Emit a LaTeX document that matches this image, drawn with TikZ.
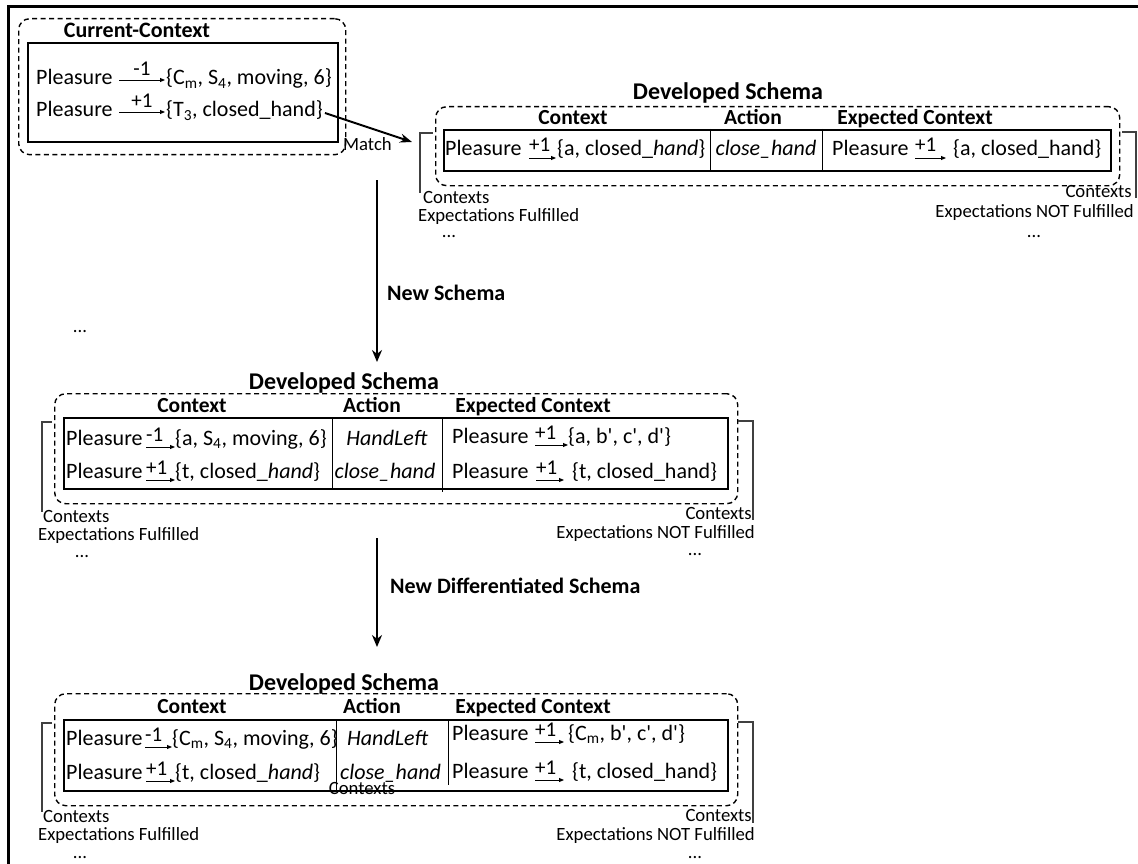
\documentclass[tikz,border=0pt]{standalone}
\usepackage{fontspec}
\setmainfont{Carlito}
\usetikzlibrary{arrows.meta,calc}

\newcommand\sq{\textquotesingle}

\tikzset{
  txt/.style={inner sep=0pt, font=\fontsize{22}{26}\selectfont},
  lbltxt/.style={inner sep=0pt, font=\fontsize{21}{24}\selectfont},
  small/.style={inner sep=0pt, font=\fontsize{18.7}{21}\selectfont},
  hdr/.style={inner sep=0pt, font=\fontsize{21.5}{24}\selectfont\bfseries},
  ttl/.style={inner sep=0pt, font=\fontsize{24}{28}\selectfont\bfseries},
  flowlbl/.style={inner sep=0pt, font=\fontsize{22}{26}\selectfont\bfseries},
  grp/.style={draw, line width=1.4pt, dash pattern=on 5pt off 3.5pt,
    rounded corners=11pt, inner sep=0pt, anchor=north west},
  tbl/.style={draw, line width=2pt, inner sep=0pt, anchor=north west},
  divider/.style={line width=1pt},
  brk/.style={line width=1.2pt, draw=black!75},
  rowarr/.style={line width=0.9pt, -{Triangle[length=5pt,width=4pt]}},
  flow/.style={line width=2.4pt, -{Stealth[length=12pt,width=10pt]}},
}

% one row inside a schema table:
% #1 name, #2 x, #3 baseline, #4 label x, #5 label, #6 arrow end x, #7 set x, #8 set
\newcommand\trow[8]{%
  \node[txt,anchor=base west] (#1p) at (#2,#3) {Pleasure};
  \node[lbltxt,anchor=base west] (#1l) at (#4,#3-4) {#5};
  \coordinate (#1e) at (#6,#3+2);
  \draw[rowarr] (#1l.base west |- #1e) -- (#1e);
  \node[txt,anchor=base west] (#1s) at (#7,#3) {#8};
}

% one row of the current context: #1 name, #2 baseline, #3 label, #4 set
\newcommand\crow[4]{%
  \node[txt,anchor=base west] (#1p) at (36,#2) {Pleasure};
  \coordinate (#1a) at (119,#2-5);
  \coordinate (#1e) at (165,#2-5);
  \draw[rowarr] (#1a) -- (#1e);
  \node[lbltxt,anchor=base] (#1l) at (142,#2-9) {#3};
  \node[txt,anchor=base west] (#1s) at (166,#2) {#4};
}

\begin{document}
\begin{tikzpicture}[x=1pt,y=-1pt]
\useasboundingbox (0,0) rectangle (1138,864);

% frame
\draw[line width=3pt] (8,864) -- (8,7) -- (1138,7);

% ---------- current context ----------
\node[grp, minimum width=327pt, minimum height=136pt] (ccg) at (18,18) {};
\node[tbl, minimum width=310pt, minimum height=99pt] (cct) at (27,42) {};
\node[hdr, font=\fontsize{22}{26}\selectfont\bfseries, anchor=base] (ccttl) at (137,38) {Current-Context};
\crow{ca}{85}{-1}{\{C\textsubscript{m}, S\textsubscript{4}, moving, 6\}}
\crow{cb}{117}{+1}{\{T\textsubscript{3}, closed\_hand\}}

% match arrow
\coordinate (mtip) at (412,142);
\draw[line width=2pt, -{Stealth[length=12pt,width=9pt]}] ([xshift=2pt,yshift=4pt]cbs.base east) -- (mtip);
\node[small,anchor=base west] (match) at (343,150) {Match};

% ---------- developed schema 1 ----------
\node[grp, minimum width=684pt, minimum height=79pt] (g1) at (435,106) {};
\node[tbl, minimum width=667pt, minimum height=41pt] (t1) at (443,129) {};
\draw[divider] (710,129) -- (710,170);
\draw[divider] (822,129) -- (822,170);
\node[ttl,anchor=base] (ttl1) at (728,100) {Developed Schema};
\node[hdr,anchor=base] (h1a) at (573,125) {Context};
\node[hdr,anchor=base] (h1b) at (753,125) {Action};
\node[hdr,anchor=base] (h1c) at (915,125) {Expected Context};
\trow{ra}{445}{156}{529}{+1}{556}{557}{\{a, closed\_\textit{hand}\}}
\node[txt,anchor=base] (ract) at (766,156) {\textit{close\_hand}};
\trow{rb}{832}{156}{915}{+1}{946}{953}{\{a, closed\_hand\}}

\draw[brk] (433,133) -- (420,133) -- (420,193);
\draw[brk] (1122,132) -- (1136,132) -- (1136,198);
\node[small,anchor=base west] (l1a) at (423,203) {Contexts};
\node[small,anchor=base west] (l1b) at (418,221) {Expectations Fulfilled};
\node[small,anchor=base] (l1c) at (449,237) {...};
\node[small,anchor=base east] (r1a) at (1132,197) {Contexts};
\node[small,anchor=base east] (r1b) at (1134,217) {Expectations NOT Fulfilled};
\node[small,anchor=base] (r1c) at (1034,237) {...};

% ---------- flow ----------
\coordinate (f1a) at (377,180);
\coordinate (f1b) at (377,362);
\draw[flow] (f1a) -- (f1b);
\node[flowlbl,anchor=base west] (fl1) at (387,300) {New Schema};
\node[small,anchor=base] (dots) at (80,332) {...};

% ---------- developed schema 2 ----------
\node[grp, minimum width=683pt, minimum height=110pt] (g2) at (54,393) {};
\node[tbl, minimum width=664pt, minimum height=71pt] (t2) at (63,417) {};
\draw[divider] (332,417) -- (332,488);
\draw[divider] (442,417) -- (442,492);
\node[ttl,anchor=base] (ttl2) at (344,389) {Developed Schema};
\node[hdr,anchor=base] (h2a) at (192,412) {Context};
\node[hdr,anchor=base] (h2b) at (372,412) {Action};
\node[hdr,anchor=base] (h2c) at (533,412) {Expected Context};
\trow{sa}{66}{445}{146}{-1}{175}{175}{\{a, S\textsubscript{4}, moving, 6\}}
\trow{sb}{66}{478}{146}{+1}{175}{175}{\{t, closed\_\textit{hand}\}}
\node[txt,anchor=base] (sact1) at (387,445) {\textit{HandLeft}};
\node[txt,anchor=base] (sact2) at (385,478) {\textit{close\_hand}};
\trow{sc}{452}{443}{535}{+1}{568}{568}{\{a, b\sq, c\sq, d\sq\}}
\trow{sd}{452}{478}{536}{+1}{564}{572}{\{t, closed\_hand\}}

\draw[brk] (52,422) -- (42,422) -- (42,512);
\draw[brk] (738,421) -- (753,421) -- (753,520);
\node[small,anchor=base west] (l2a) at (43,522) {Contexts};
\node[small,anchor=base west] (l2b) at (38,540) {Expectations Fulfilled};
\node[small,anchor=base] (l2c) at (82,557) {...};
\node[small,anchor=base east] (r2a) at (752,519) {Contexts};
\node[small,anchor=base east] (r2b) at (755,538) {Expectations NOT Fulfilled};
\node[small,anchor=base] (r2c) at (695,555) {...};

% ---------- flow ----------
\coordinate (f2a) at (377,538);
\coordinate (f2b) at (377,647);
\draw[flow] (f2a) -- (f2b);
\node[flowlbl,anchor=base west] (fl2) at (390,593) {New Differentiated Schema};

% ---------- developed schema 3 ----------
\node[grp, minimum width=683pt, minimum height=112pt] (g3) at (54,693) {};
\node[tbl, minimum width=664pt, minimum height=71pt] (t3) at (63,719) {};
\draw[divider] (336,719) -- (336,790);
\draw[divider] (448,719) -- (448,785);
\node[ttl,anchor=base] (ttl3) at (344,690) {Developed Schema};
\node[hdr,anchor=base] (h3a) at (192,713) {Context};
\node[hdr,anchor=base] (h3b) at (372,713) {Action};
\node[hdr,anchor=base] (h3c) at (533,713) {Expected Context};
\trow{ua}{66}{745}{145}{-1}{172}{172}{\{C\textsubscript{m}, S\textsubscript{4}, moving, 6\}}
\trow{ub}{66}{779}{146}{+1}{175}{175}{\{t, closed\_\textit{hand}\}}
\node[txt,anchor=base west] (uact1) at (347,745) {\textit{HandLeft}};
\node[txt,anchor=base west] (uact2) at (340,779) {\textit{close\_hand}};
\trow{uc}{452}{740}{535}{+1}{564}{568}{\{C\textsubscript{m}, b\sq, c\sq, d\sq\}}
\trow{ud}{452}{778}{535}{+1}{564}{572}{\{t, closed\_hand\}}
\node[small,anchor=base] (ustray) at (362,794) {Contexts};

\draw[brk] (52,723) -- (42,723) -- (42,812);
\draw[brk] (738,722) -- (753,722) -- (753,823);
\node[small,anchor=base west] (l3a) at (43,822) {Contexts};
\node[small,anchor=base west] (l3b) at (38,840) {Expectations Fulfilled};
\node[small,anchor=base] (l3c) at (80,858) {...};
\node[small,anchor=base east] (r3a) at (752,821) {Contexts};
\node[small,anchor=base east] (r3b) at (755,840) {Expectations NOT Fulfilled};
\node[small,anchor=base] (r3c) at (695,858) {...};
\end{tikzpicture}
\end{document}
